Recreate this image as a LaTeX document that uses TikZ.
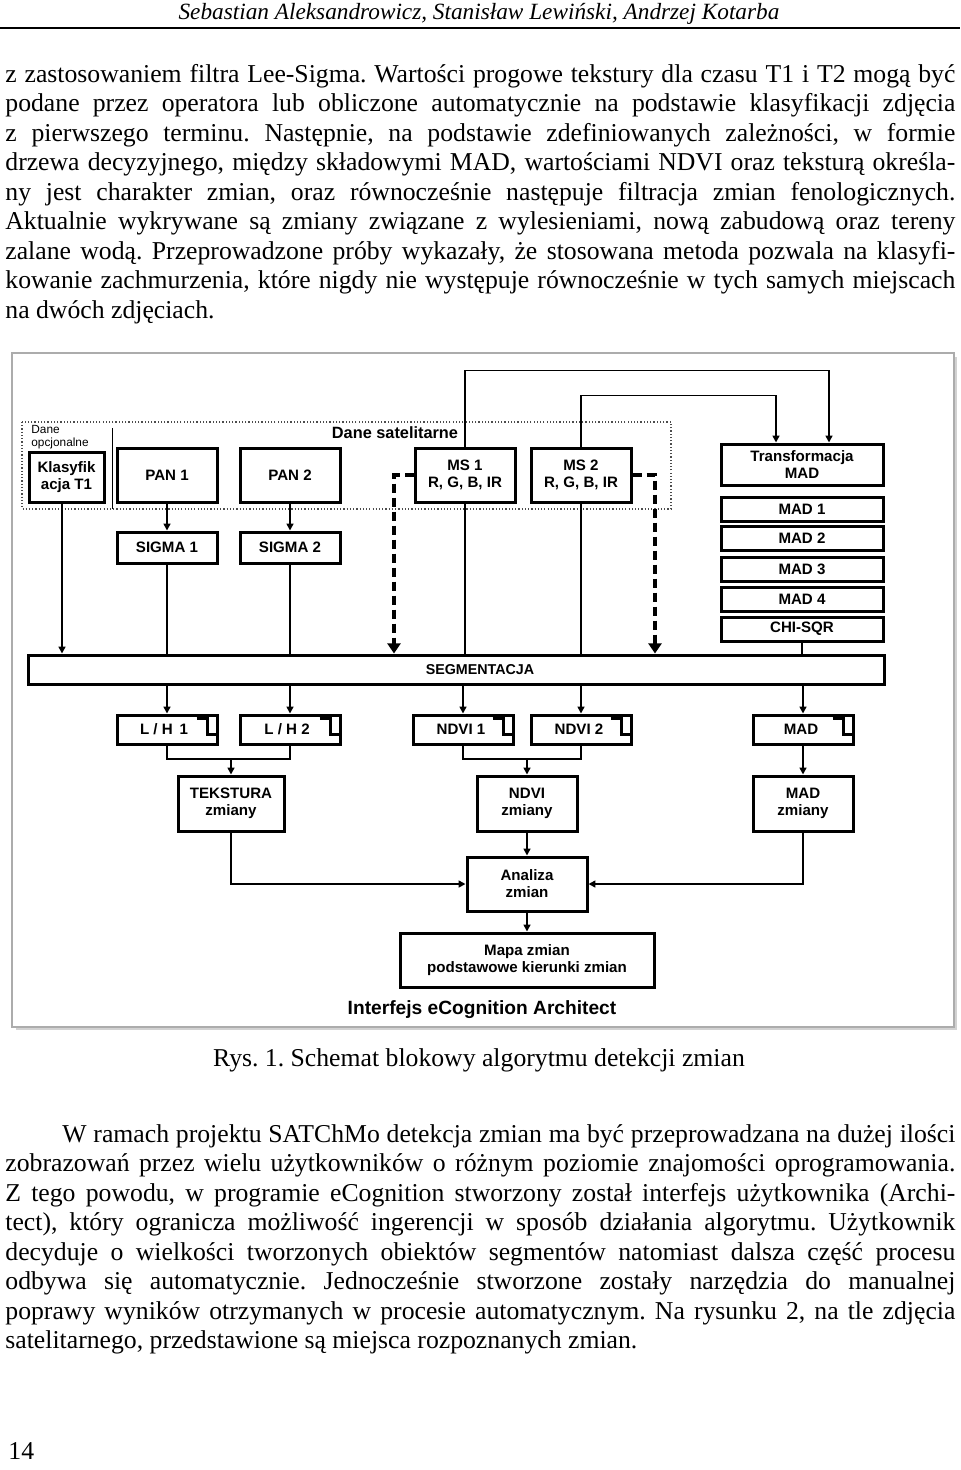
\documentclass[tikz,border=0pt]{standalone}
\usepackage{fontspec}
\setmainfont{Liberation Serif}
\newfontfamily\diagfont{Liberation Sans}
\usetikzlibrary{arrows.meta,calc,positioning}
\frenchspacing
\newlength\pu
\setlength\pu{0.49pt}
\newcommand\linia[1]{\makebox[950\pu][s]{#1}}
\tikzset{
  blok/.style={draw, line width=3\pu, inner sep=0pt, align=center,
    font=\diagfont\fontsize{7.4}{8.4}\selectfont\bfseries},
  wide/.style={blok, minimum width=100\pu, minimum height=54\pu},
  madbox/.style={blok, minimum width=162\pu, minimum height=24\pu},
  prog/.style={blok, minimum width=100\pu, minimum height=29\pu},
  wyn/.style={blok, minimum width=100\pu, minimum height=55\pu},
  strz/.style={-{Triangle[length=3.4pt,width=3.4pt]}, line width=1.7\pu},
  linka/.style={line width=1.7\pu},
  kresk/.style={-{Triangle[length=5pt,width=6.4pt]}, line width=3.2\pu, dash pattern=on 9\pu off 5\pu},
  wiersz/.style={anchor=base west, inner sep=0pt}
}
\begin{document}
\begin{tikzpicture}[x=0.49pt, y=-0.49pt, font=\fontsize{12.6}{14.5}\selectfont]
\useasboundingbox (0,0) rectangle (960,1470);
% naglowek strony
\node[anchor=base, inner sep=0pt, font=\fontsize{11.4}{13}\selectfont\itshape] (naglowek) at (479,19)
  {Sebastian Aleksandrowicz, Stanisław Lewiński, Andrzej Kotarba};
\draw[line width=1.5\pu] (0,28) -- (960,28);
% pierwszy akapit
\foreach \t [count=\i from 0] in {{z zastosowaniem filtra Lee-Sigma. Wartości progowe tekstury dla czasu T1 i T2 mogą być},
  {podane przez operatora lub obliczone automatycznie na podstawie klasyfikacji zdjęcia},
  {z pierwszego terminu. Następnie, na podstawie zdefiniowanych zależności, w formie},
  {drzewa decyzyjnego, między składowymi MAD, wartościami NDVI oraz teksturą określa-},
  {ny jest charakter zmian, oraz równocześnie następuje filtracja zmian fenologicznych.},
  {Aktualnie wykrywane są zmiany związane z wylesieniami, nową zabudową oraz tereny},
  {zalane wodą. Przeprowadzone próby wykazały, że stosowana metoda pozwala na klasyfi-},
  {kowanie zachmurzenia, które nigdy nie występuje równocześnie w tych samych miejscach}}
  \node[wiersz] (a\i) at (5,{82+29.5*\i}) {\linia{\t}};
\node[wiersz] (a8) at (5,318) {na dwóch zdjęciach.};

% rama rysunku
\draw[gray!35, line width=3\pu] (16,1028.5) -- (955.5,1028.5) -- (955.5,357);
\draw[gray!65, line width=1.5\pu] (12,353) rectangle (954,1027);
\draw[densely dotted, gray!60!black, line width=1.2\pu] (22,422) rectangle (671,509);
\draw[line width=1\pu] (112,428) -- (112,509);
\node[inner sep=0pt, font=\diagfont\fontsize{8}{9}\selectfont\bfseries] (sat) at (395,433) {Dane satelitarne};
\node[anchor=north west, align=left, inner sep=0pt, font=\diagfont\fontsize{5.8}{6.4}\selectfont] (opc) at (31,425) {Dane\\opcjonalne};

% dane wejsciowe
\node[blok, minimum width=75\pu, minimum height=50\pu] (klas) at (66.5,477) {Klasyfik\\acja T1};
\node[wide] (pan1) at (167,475) {PAN 1};
\node[wide] (pan2) at (290,475) {PAN 2};
\node[wide] (ms1) at (465,475) {MS 1\\R, G, B, IR};
\node[wide] (ms2) at (581,475) {MS 2\\R, G, B, IR};
\node[blok, minimum width=100\pu, minimum height=31\pu] (sigma1) at (167,547.5) {SIGMA 1};
\node[blok, minimum width=100\pu, minimum height=31\pu] (sigma2) at (290,547.5) {SIGMA 2};
\node[blok, minimum width=162\pu, minimum height=41\pu] (transf) at (802,464.5) {Transformacja\\MAD};
\node[madbox] (mad1) at (802,509) {MAD 1};
\node[madbox] (mad2) at (802,538) {MAD 2};
\node[madbox] (mad3) at (802,569) {MAD 3};
\node[madbox] (mad4) at (802,599) {MAD 4};
\node[madbox] (chi) at (802,629) {CHI-SQR};
\node[blok, minimum width=856\pu, minimum height=29\pu, font=\diagfont\fontsize{7}{8}\selectfont\bfseries] (seg) at (456,669.5) {\hspace*{48\pu}SEGMENTACJA};

% progi
\node[prog] (lh1) at (167,729.5) {L / H \,1\hspace*{6\pu}};
\node[prog] (lh2) at (290,729.5) {L / H 2\hspace*{6\pu}};
\node[prog] (ndvi1) at (463,729.5) {NDVI 1\hspace*{4\pu}};
\node[prog] (ndvi2) at (581,729.5) {NDVI 2\hspace*{4\pu}};
\node[prog] (madp) at (803,729.5) {MAD\hspace*{4\pu}};
\foreach \n in {lh1,lh2,ndvi1,ndvi2,madp}
  \draw[line width=2.2\pu] ($(\n.north east)+(-22,5)$) -- ++(11,0) -- ++(0,16) -- ($(\n.north east)+(-1.5,21)$);

% wyniki
\node[wyn, minimum width=106\pu] (tekst) at (231,803.5) {TEKSTURA\\zmiany};
\node[wyn] (ndviz) at (527,803.5) {NDVI\\zmiany};
\node[wyn] (madz) at (803,803.5) {MAD\\zmiany};
\node[blok, minimum width=120\pu, minimum height=54\pu] (anal) at (527,884) {Analiza\\zmian};
\node[blok, minimum width=254\pu, minimum height=54\pu] (mapa) at (527,960) {Mapa zmian\\podstawowe kierunki zmian};
\node[inner sep=0pt, font=\diagfont\fontsize{9.4}{11}\selectfont\bfseries] (interfejs) at (482,1010) {Interfejs eCognition Architect};

% polaczenia
\coordinate (k1) at (394,0);
\coordinate (k2) at (655,0);
\coordinate (z1) at (231,759);
\coordinate (z2) at (527,759);
\draw[strz] (klas.south -| 62,0) -- (seg.north -| 62,0);
\draw[strz] (pan1) -- (sigma1);
\draw[strz] (pan2) -- (sigma2);
\draw[linka] (sigma1) -- (sigma1 |- seg.north);
\draw[linka] (sigma2) -- (sigma2 |- seg.north);
\draw[linka] (ms1) -- (ms1 |- seg.north);
\draw[linka] (ms2) -- (ms2 |- seg.north);
\draw[linka] (chi) -- (chi |- seg.north);
\draw[strz] (ms1.north) -- ++(0,-76) -| ($(transf.north)+(27,0)$);
\draw[strz] (ms2.north) -- ++(0,-51) -| ($(transf.north)+(-26,0)$);
\draw[kresk] (ms1.west) -| (k1 |- seg.north);
\draw[kresk] (ms2.east) -| (k2 |- seg.north);
\foreach \n in {lh1,lh2,ndvi1,ndvi2,madp}
  \draw[strz] (\n |- seg.south) -- (\n.north);
\draw[linka] (lh1.south) |- (z1) -| (lh2.south);
\draw[linka] (ndvi1.south) |- (z2) -| (ndvi2.south);
\draw[strz] (z1) -- (tekst);
\draw[strz] (z2) -- (ndviz);
\draw[strz] (madp) -- (madz);
\draw[strz] (ndviz) -- (anal);
\draw[strz] (tekst.south) |- (anal.west);
\draw[strz] (madz.south) |- (anal.east);
\draw[strz] (anal) -- (mapa);

% podpis i drugi akapit
\node[anchor=base, inner sep=0pt] (podpis) at (479,1066) {Rys. 1. Schemat blokowy algorytmu detekcji zmian};
\node[wiersz] (b0) at (62,1142) {\makebox[893\pu][s]{W ramach projektu SATChMo detekcja zmian ma być przeprowadzana na dużej ilości}};
\foreach \t [count=\i] in {{zobrazowań przez wielu użytkowników o różnym poziomie znajomości oprogramowania.},
  {Z tego powodu, w programie eCognition stworzony został interfejs użytkownika (Archi-},
  {tect), który ogranicza możliwość ingerencji w sposób działania algorytmu. Użytkownik},
  {decyduje o wielkości tworzonych obiektów segmentów natomiast dalsza część procesu},
  {odbywa się automatycznie. Jednocześnie stworzone zostały narzędzia do manualnej},
  {poprawy wyników otrzymanych w procesie automatycznym. Na rysunku 2, na tle zdjęcia}}
  \node[wiersz] (b\i) at (5,{1142+29.5*\i}) {\linia{\t}};
\node[wiersz] (b7) at (5,1348.5) {satelitarnego, przedstawione są miejsca rozpoznanych zmian.};
\node[wiersz] (strona) at (8,1459) {14};
\end{tikzpicture}
\end{document}
